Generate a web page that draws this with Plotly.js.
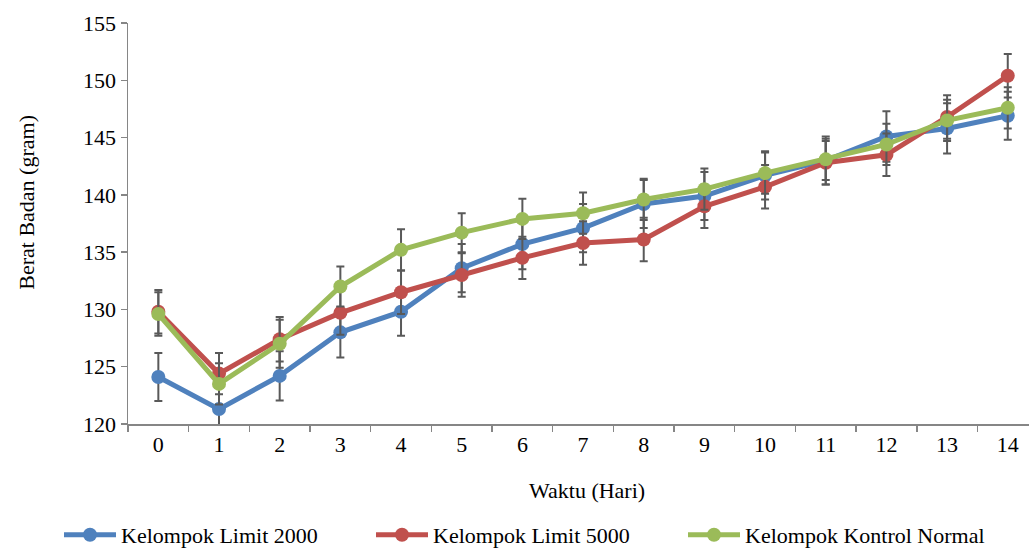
<!DOCTYPE html>
<html>
<head>
<meta charset="utf-8">
<script src="https://cdn.plot.ly/plotly-3.0.1.min.js"></script>
<style>html,body{margin:0;padding:0;background:#fff;}#chart{width:1029px;height:548px;}</style>
</head>
<body>
<div id="chart"></div>
<script>
// Data
const days = ["0","1","2","3","4","5","6","7","8","9","10","11","12","13","14"];
const limit2000 = [124.1, 121.3, 124.2, 128.0, 129.8, 133.6, 135.7, 137.1, 139.2, 139.9, 141.7, 143.0, 145.1, 145.8, 146.9];
const limit5000 = [129.8, 124.4, 127.4, 129.7, 131.5, 133.0, 134.5, 135.8, 136.1, 139.0, 140.7, 142.8, 143.5, 146.8, 150.4];
const kontrol   = [129.6, 123.5, 127.0, 132.0, 135.2, 136.7, 137.9, 138.4, 139.6, 140.5, 141.9, 143.1, 144.4, 146.5, 147.6];
const err2000 = [2.1, 2.1, 2.15, 2.2, 2.1, 2.1, 2.2, 2.1, 2.1, 2.1, 2.1, 2.1, 2.2, 2.2, 2.1];
const err5000 = [1.9, 1.8, 1.95, 1.9, 1.9, 1.9, 1.85, 1.9, 1.9, 1.9, 1.9, 1.9, 1.85, 1.9, 1.9];
const errKontrol = [1.9, 1.8, 2.1, 1.75, 1.8, 1.7, 1.75, 1.8, 1.8, 1.8, 1.8, 1.8, 1.8, 1.8, 1.8];
const seriesNames = ["Kelompok Limit 2000", "Kelompok Limit 5000", "Kelompok Kontrol Normal"];
const xTitle = "Waktu (Hari)";
const yTitle = "Berat Badan (gram)";

const FONT = "Liberation Serif, Times New Roman, serif";
const colors = ["#4F81BD", "#C0504D", "#9BBB59"];
const ys = [limit2000, limit5000, kontrol];
const errs = [err2000, err5000, errKontrol];
const legendIds = ["legend", "legend2", "legend3"];
const legendLeft = [59, 371, 683];

const traces = ys.map((y, i) => ({
  type: "scatter",
  mode: "lines+markers",
  name: seriesNames[i],
  legend: legendIds[i],
  x: days,
  y: y,
  line: {color: colors[i], width: 5},
  marker: {color: colors[i], size: 14},
  error_y: {type: "data", array: errs[i], visible: true, color: "#595959", thickness: 2, width: 4}
}));

const layout = {
  width: 1029, height: 548,
  margin: {l: 128, r: 0, t: 23, b: 124, autoexpand: false},
  paper_bgcolor: "#ffffff",
  plot_bgcolor: "#ffffff",
  font: {family: FONT, size: 22, color: "#000"},
  showlegend: true,
  xaxis: {
    type: "category",
    range: [-0.5, 14.35],
    showgrid: false, zeroline: false,
    showline: true, linecolor: "#868686", linewidth: 1.5,
    ticks: "outside", ticklen: 6, tickcolor: "#868686", tickwidth: 1.5,
    tickson: "boundaries",
    tickfont: {family: FONT, size: 22, color: "#000"},
    fixedrange: true
  },
  yaxis: {
    range: [120, 155],
    dtick: 5, tick0: 120,
    showgrid: false, zeroline: false,
    showline: true, linecolor: "#868686", linewidth: 1.5,
    ticks: "outside", ticklen: 6, tickcolor: "#868686", tickwidth: 1.5,
    tickfont: {family: FONT, size: 22, color: "#000"},
    fixedrange: true
  },
  annotations: [
    {text: xTitle, xref: "paper", yref: "paper", x: 0.5097, y: -0.167, xanchor: "center", yanchor: "middle",
     showarrow: false, font: {family: FONT, size: 22, color: "#000"}},
    {text: yTitle, xref: "paper", yref: "paper", x: -0.112, y: 0.552, xanchor: "center", yanchor: "middle",
     textangle: -90, showarrow: false, font: {family: FONT, size: 22, color: "#000"}}
  ],
  hovermode: false
};

legendIds.forEach((id, i) => {
  layout[id] = {
    orientation: "h",
    xref: "container", yref: "container",
    x: legendLeft[i] / 1029, xanchor: "left",
    y: 13 / 548, yanchor: "middle",
    itemwidth: 52,
    font: {family: FONT, size: 22, color: "#000"},
    bgcolor: "rgba(0,0,0,0)"
  };
});

Plotly.newPlot("chart", traces, layout, {displayModeBar: false, staticPlot: true});
</script>
</body>
</html>
